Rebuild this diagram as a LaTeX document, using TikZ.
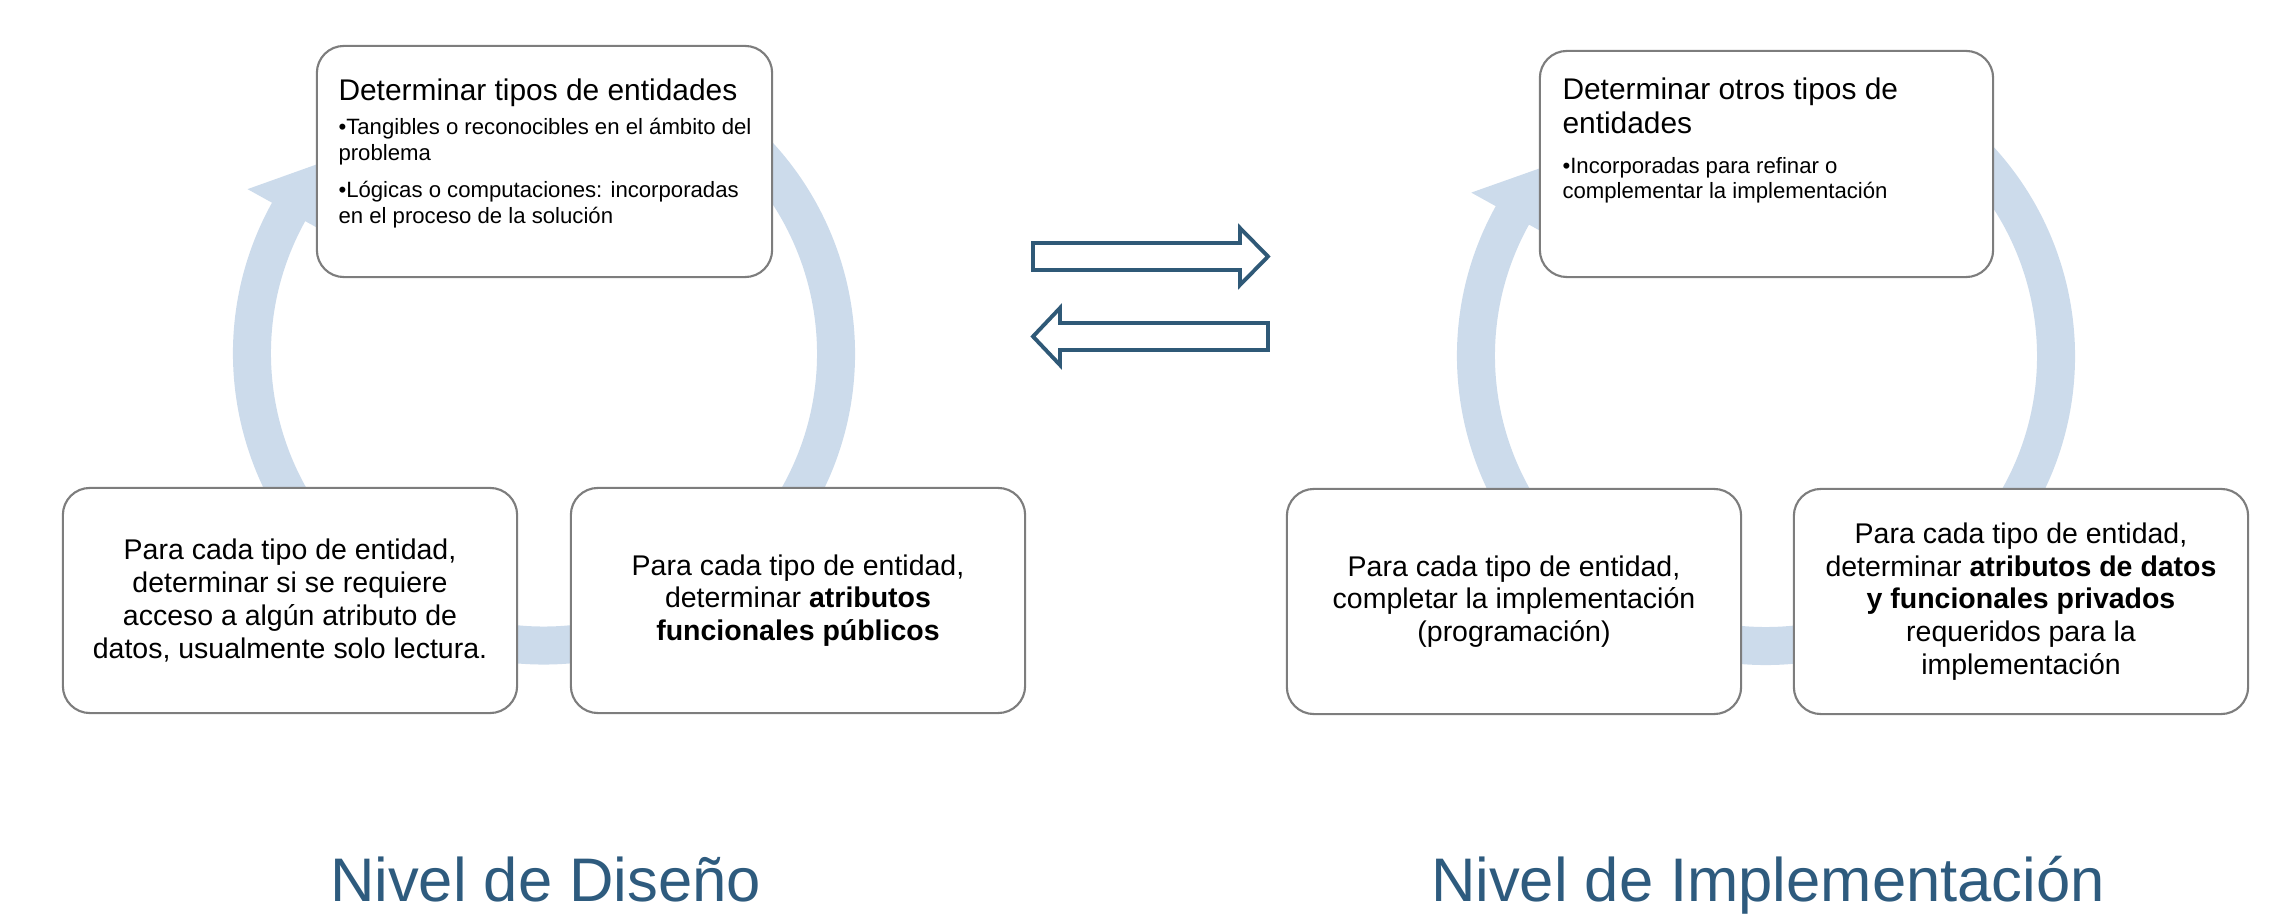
\documentclass[tikz,border=0pt]{standalone}
\usepackage{fontspec}
\setmainfont{Liberation Sans}
\usetikzlibrary{positioning}

\definecolor{ringblue}{RGB}{204,219,235}
\definecolor{titleblue}{RGB}{46,91,126}
\definecolor{arrowblue}{RGB}{47,89,119}
\definecolor{boxgray}{RGB}{125,125,125}

\newcommand{\boxtitle}{\fontsize{8.5}{9.7}\selectfont}
\newcommand{\bultext}{\fontsize{6.3}{7.3}\selectfont}
\newcommand{\bodytext}{\fontsize{8.1}{9.3}\selectfont}
\newcommand{\leveltext}{\fontsize{17.5}{21}\selectfont}
\newcommand{\bul}{\textbullet}

\begin{document}
\begin{tikzpicture}[
    x=0.01cm, y=0.01cm,
    stagebox/.style={draw=boxgray, line width=0.6pt, fill=white, rounded corners=0.27cm,
        minimum width=4.54cm, minimum height=2.25cm, inner sep=0pt, align=center, font=\bodytext},
    headtext/.style={anchor=north west, inner sep=0pt, align=left, font=\boxtitle},
    bullettext/.style={inner sep=0pt, align=left, font=\bultext},
    ring/.style={draw=ringblue, line width=0.38cm},
    ringhead/.style={fill=ringblue},
    blockarrow/.style={draw=arrowblue, line width=1.1pt, fill=white, line join=miter},
    level/.style={anchor=base, text=titleblue, font=\leveltext}
]
    \useasboundingbox (0,0) rectangle (2274,924);

    % rings behind the boxes
    \coordinate (cycL) at (544,570.5);
    \coordinate (cycR) at (1766,568);
    \draw[ring] (cycL) ++(60:292) arc[start angle=60, end angle=-210, radius=292];
    \fill[ringhead, shift={(cycL)}] (151:245) -- (151:339) -- (139:292) -- cycle;
    \draw[ring] (cycR) ++(60:290) arc[start angle=60, end angle=-210, radius=290];
    \fill[ringhead, shift={(cycR)}] (151:243) -- (151:337) -- (139:290) -- cycle;

    % design level
    \node[stagebox, minimum width=4.55cm, minimum height=2.31cm] (entL) at (544.5,762.5) {};
    \node[headtext] (entLtitle) at ([xshift=0.22cm, yshift=-0.33cm]entL.north west) {Determinar tipos de entidades};
    \node[bullettext, anchor=north west] (entLb1) at ([yshift=-0.175cm]entLtitle.base west)
        {\bul Tangibles o reconocibles en el ámbito del\\problema};
    \node[bullettext, below=0.15cm of entLb1.south west, anchor=north west] (entLb2)
        {\bul Lógicas o computaciones: incorporadas\\en el proceso de la solución};
    \node[stagebox] (accL) at (290,323.5)
        {Para cada tipo de entidad,\\determinar si se requiere\\acceso a algún atributo de\\datos, usualmente solo lectura.};
    \node[stagebox] (pubL) at (798,323.5)
        {Para cada tipo de entidad,\\determinar \textbf{atributos}\\\textbf{funcionales públicos}};

    % implementation level
    \node[stagebox, minimum width=4.53cm, minimum height=2.26cm] (entR) at (1766.5,760) {};
    \node[headtext] (entRtitle) at ([xshift=0.23cm, yshift=-0.27cm]entR.north west) {Determinar otros tipos de\\entidades};
    \node[bullettext, below=0.22cm of entRtitle.south west, anchor=north west] (entRb1)
        {\bul Incorporadas para refinar o\\complementar la implementación};
    \node[stagebox] (progR) at (1514,322.5)
        {Para cada tipo de entidad,\\completar la implementación\\(programación)};
    \node[stagebox] (privR) at (2021,322.5)
        {Para cada tipo de entidad,\\determinar \textbf{atributos de datos}\\\textbf{y funcionales privados}\\requeridos para la\\implementación};

    % back and forth arrows
    \draw[blockarrow] (1033,654) -- (1240,654) -- (1240,639) -- (1268,667.5) -- (1240,696) -- (1240,681) -- (1033,681) -- cycle;
    \draw[blockarrow] (1268,574) -- (1060,574) -- (1060,559) -- (1033,587.5) -- (1060,616) -- (1060,601) -- (1268,601) -- cycle;

    \node[level] (nivD) at (545.5,22) {Nivel de Diseño};
    \node[level] (nivI) at (1768,22) {Nivel de Implementación};
\end{tikzpicture}
\end{document}
